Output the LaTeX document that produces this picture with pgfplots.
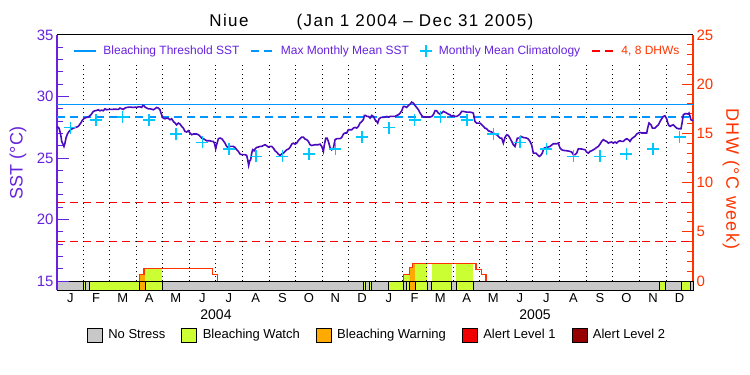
\documentclass[border=0pt]{standalone}
\usepackage{fontspec}
\setmainfont{Liberation Sans}
\newfontfamily\titlefam[LetterSpace=8]{Liberation Sans}
\usepackage{pgfplots}
\pgfplotsset{compat=1.18}
\definecolor{sstline}{RGB}{75,10,190}
\definecolor{purp}{RGB}{102,34,221}
\definecolor{thr}{RGB}{0,150,255}
\definecolor{clim}{RGB}{0,200,255}
\definecolor{dhwred}{RGB}{255,0,0}
\definecolor{oranger}{RGB}{255,51,0}
\definecolor{nostress}{RGB}{200,200,200}
\definecolor{watch}{RGB}{204,255,51}
\definecolor{warning}{RGB}{255,170,0}
\definecolor{alertone}{RGB}{240,0,0}
\definecolor{alerttwo}{RGB}{150,0,0}
\pgfplotsset{
 lineleg/.style={legend image code/.code={\draw[mark repeat=2,mark phase=2,##1] plot coordinates {(0bp,0bp)(11bp,0bp)(22bp,0bp)};}},
 boxleg/.style={legend image code/.code={\draw[##1] (0bp,-7bp) rectangle (15bp,7bp);}},
}
\newcommand\tickfont{\fontsize{15bp}{15bp}\selectfont}
\newcommand\seg[3]{\addplot[fill=#3,draw=black,line width=0.8bp,forget plot] coordinates {(#1,-0.9125)(#1,0)(#2,0)(#2,-0.9125)} --cycle;}
\begin{document}
\begin{tikzpicture}
\useasboundingbox (0,0) rectangle (750bp,375bp);
\node[anchor=base,font=\titlefam\fontsize{17bp}{17bp}\selectfont] at (229bp,348bp) {Niue};
\node[anchor=base,font=\titlefam\fontsize{17bp}{17bp}\selectfont] at (415bp,348bp) {(Jan 1 2004 – Dec 31 2005)};
% ---------- DHW axis (right) ----------
\begin{axis}[at={(57bp,85bp)}, anchor=south west, scale only axis,
 width=636bp, height=255bp, xmin=0, xmax=731, ymin=-0.9125, ymax=25,
 axis x line=none, axis y line*=right,
 y axis line style={draw=oranger, line width=1.3bp},
 ytick={0,5,10,15,20,25}, minor y tick num=4, tick align=inside,
 major tick length=11bp, minor tick length=6bp,
 y tick style={oranger, line width=1bp},
 yticklabel style={text=oranger, font=\tickfont},
 /pgf/number format/assume math mode=true,
 clip=false, boxleg,
 legend columns=5,
 legend style={at={(rel axis cs:0.042,-0.1765)}, anchor=west, draw=none, fill=none,
   font=\fontsize{13bp}{13bp}\selectfont, nodes={inner sep=0pt},
   /tikz/every odd column/.append style={column sep=6bp},
   /tikz/every even column/.append style={column sep=16bp}},
]
% area under DHW coloured by stress level
\addplot[fill=warning, draw=none, forget plot] coordinates {(95,0)(95,0.67)(100,0.67)(100,1.27)(101.1,1.27)(101.1,0)} --cycle;
\addplot[fill=watch, draw=none, forget plot] coordinates {(101.1,0)(101.1,1.27)(121,1.27)(121,0)} --cycle;
\addplot[fill=watch, draw=none, forget plot] coordinates {(398.1,0)(398.1,0.67)(405,0.67)(405,0)} --cycle;
\addplot[fill=warning, draw=none, forget plot] coordinates {(405,0)(405,1.37)(408.8,1.37)(408.8,1.78)(411.5,1.78)(411.5,0)} --cycle;
\addplot[fill=watch, draw=none, forget plot] coordinates {(411.5,0)(411.5,1.78)(425.6,1.78)(425.6,0)} --cycle;
\addplot[fill=watch, draw=none, forget plot] coordinates {(430.7,0)(430.7,1.78)(453.7,1.78)(453.7,0)} --cycle;
\addplot[fill=watch, draw=none, forget plot] coordinates {(458.6,0)(458.6,1.78)(478.5,1.78)(478.5,0)} --cycle;
% DHW curve
\addplot[oranger, line width=1.2bp, forget plot] coordinates {(95,0)(95,0.67)(100,0.67)(100,1.27)(178.5,1.27)(178.5,0.67)(184.7,0.67)(184.7,0)};
\addplot[oranger, line width=1.2bp, forget plot] coordinates {(398.1,0)(398.1,0.67)(405,0.67)(405,1.37)(408.8,1.37)(408.8,1.78)(481.6,1.78)(481.6,1.19)(488.1,1.19)(488.1,0.67)(493.1,0.67)(493.1,0)};
% DHW thresholds
\addplot[dhwred, line width=1.2bp, dash pattern=on 8bp off 5bp, forget plot] coordinates {(0,4)(731,4)};
\addplot[dhwred, line width=1.2bp, dash pattern=on 8bp off 5bp, forget plot] coordinates {(0,8)(731,8)};
% stress bar
\seg{0}{30.2}{nostress}
\seg{30.2}{33.0}{watch}
\seg{33.0}{37.6}{nostress}
\seg{37.6}{95.0}{watch}
\seg{95.0}{101.1}{warning}
\seg{101.1}{121.0}{watch}
\seg{121.0}{352.1}{nostress}
\seg{352.1}{354.8}{watch}
\seg{354.8}{358.6}{nostress}
\seg{358.6}{361.7}{watch}
\seg{361.7}{380.5}{nostress}
\seg{380.5}{397.7}{watch}
\seg{397.7}{401.1}{nostress}
\seg{401.1}{405.0}{watch}
\seg{405.0}{411.5}{warning}
\seg{411.5}{425.6}{watch}
\seg{425.6}{430.7}{nostress}
\seg{430.7}{453.7}{watch}
\seg{453.7}{458.6}{nostress}
\seg{458.6}{478.5}{watch}
\seg{478.5}{692.3}{nostress}
\seg{692.3}{699.6}{watch}
\seg{699.6}{718.0}{nostress}
\seg{718.0}{728.4}{watch}
\seg{728.4}{731}{nostress}
\addlegendimage{draw=black, fill=nostress}
\addlegendentry{No Stress}
\addlegendimage{draw=black, fill=watch}
\addlegendentry{Bleaching Watch}
\addlegendimage{draw=black, fill=warning}
\addlegendentry{Bleaching Warning}
\addlegendimage{draw=black, fill=alertone}
\addlegendentry{Alert Level 1}
\addlegendimage{draw=black, fill=alerttwo}
\addlegendentry{Alert Level 2}
\node[rotate=-90, text=oranger, font=\titlefam\fontsize{18bp}{18bp}\selectfont] at (rel axis cs:1.0597,0.435) {DHW (°C week)};
\end{axis}
% ---------- SST axis (left) ----------
\begin{axis}[at={(57bp,85bp)}, anchor=south west, scale only axis,
 width=636bp, height=255bp, xmin=0, xmax=731, ymin=14.27, ymax=35,
 axis y line*=left, axis x line*=bottom,
 x axis line style={draw=none}, x tick style={draw=none},
 xtick={15.5,45,75.5,106,136.5,167,197.5,228.5,259,289.5,320,350.5,381.5,411,440.5,471,501.5,532,562.5,593.5,624,654.5,685,715.5},
 xticklabels={J,F,M,A,M,J,J,A,S,O,N,D,J,F,M,A,M,J,J,A,S,O,N,D},
 xticklabel style={font=\fontsize{13bp}{13bp}\selectfont, inner sep=0pt, yshift=-3bp},
 y axis line style={draw=purp, line width=1.3bp},
 ytick={15,20,25,30,35}, minor y tick num=4, tick align=inside,
 major tick length=12bp, minor tick length=6bp,
 y tick style={purp, line width=1bp},
 yticklabel style={text=purp, font=\tickfont},
 /pgf/number format/assume math mode=true,
 unbounded coords=jump, clip=false, lineleg,
 legend columns=4,
 legend style={at={(rel axis cs:0.0204,0.937)}, anchor=west, draw=none, fill=none,
   text=purp, font=\fontsize{12bp}{12bp}\selectfont, nodes={inner sep=0pt},
   /tikz/every odd column/.append style={column sep=7bp},
   /tikz/every even column/.append style={column sep=11bp}},
]
% month boundaries
\addplot[black, line width=1bp, dash pattern=on 1bp off 3.3bp, forget plot] coordinates {
(31,15)(31,32.8)(31,nan)(60,15)(60,32.8)(60,nan)(91,15)(91,32.8)(91,nan)(121,15)(121,32.8)(121,nan)
(152,15)(152,32.8)(152,nan)(182,15)(182,32.8)(182,nan)(213,15)(213,32.8)(213,nan)(244,15)(244,32.8)(244,nan)
(274,15)(274,32.8)(274,nan)(305,15)(305,32.8)(305,nan)(335,15)(335,32.8)(335,nan)(366,15)(366,32.8)(366,nan)
(397,15)(397,32.8)(397,nan)(425,15)(425,32.8)(425,nan)(456,15)(456,32.8)(456,nan)(486,15)(486,32.8)(486,nan)
(517,15)(517,32.8)(517,nan)(547,15)(547,32.8)(547,nan)(578,15)(578,32.8)(578,nan)(609,15)(609,32.8)(609,nan)
(639,15)(639,32.8)(639,nan)(670,15)(670,32.8)(670,nan)(700,15)(700,32.8)};
\addplot[thr, line width=1.3bp] coordinates {(0,29.33)(731,29.33)};
\addlegendentry{Bleaching Threshold SST}
\addplot[thr, line width=1.3bp, dash pattern=on 8bp off 5bp] coordinates {(0,28.33)(731,28.33)};
\addlegendentry{Max Monthly Mean SST}
\addplot[clim, only marks, mark=+, mark size=6bp, line width=1.5bp] coordinates {
(15.5,27.48)(45,28.11)(75.5,28.33)(106,28.11)(136.5,26.97)(167,26.27)(197.5,25.73)(228.5,25.14)(259,25.13)(289.5,25.34)(320,25.73)(350.5,26.70)
(381.5,27.48)(411,28.11)(440.5,28.33)(471,28.11)(501.5,26.97)(532,26.27)(562.5,25.73)(593.5,25.14)(624,25.13)(654.5,25.34)(685,25.73)(715.5,26.70)};
\addlegendentry{Monthly Mean Climatology}
\addlegendimage{dhwred, line width=1.2bp, dash pattern=on 8bp off 5bp}
\addlegendentry{\textcolor{oranger}{4, 8 DHWs}}
% SST
\addplot[sstline, line width=1.6bp, forget plot] coordinates {
(0,27.57)(2.3,27.43)(3.4,27.16)(4.6,26.76)(5.4,26.35)(6.9,26.13)(8.0,25.94)(9.2,26.22)(10.3,26.62)(11.9,26.95)
(13.8,27.16)(16.1,27.32)(18.8,27.43)(21.4,27.49)(23.7,27.54)(25.3,27.65)(27.6,27.87)(29.5,28.11)(31.4,28.24)(34.1,28.30)
(36.0,28.33)(37.9,28.46)(39.1,28.52)(41.8,28.79)(43.7,28.84)(45.6,28.87)(47.5,28.92)(49.4,28.84)(51.3,28.89)(53.2,28.84)
(55.2,29.00)(57.1,28.92)(59.0,28.95)(62.8,28.95)(66.7,28.97)(70.5,28.95)(72.4,29.06)(74.3,29.00)(76.2,28.95)(78.2,29.06)
(80.1,29.11)(83.9,29.14)(87.7,29.11)(89.6,29.14)(91.6,29.11)(93.5,29.16)(95.4,29.16)(97.3,29.11)(98.5,29.27)(100.0,29.25)
(101.1,29.14)(103.1,29.06)(105.0,29.00)(106.9,29.00)(108.8,28.97)(110.7,28.92)(112.6,29.00)(114.5,29.11)(116.5,29.06)(118.4,28.92)
(119.5,28.65)(121.1,28.38)(122.2,28.24)(124.1,28.19)(126.0,28.24)(128.0,28.22)(129.9,28.11)(131.8,28.19)(133.7,27.97)(135.6,27.84)
(137.5,27.70)(139.5,27.84)(141.4,27.76)(143.3,27.57)(145.2,27.43)(147.1,27.16)(149.1,27.11)(151.0,27.22)(152.9,27.03)(154.8,26.89)
(156.7,26.95)(160.6,26.95)(162.5,26.89)(164.4,26.76)(166.3,26.62)(168.2,26.57)(170.1,26.49)(172.0,26.40)(175.9,26.40)(177.8,26.35)
(179.7,26.35)(180.9,26.21)(182.4,25.75)(183.5,26.08)(185.5,26.57)(187.4,26.62)(189.3,26.57)(191.2,26.40)(193.1,26.21)(195.0,25.94)
(196.9,25.86)(198.1,25.94)(200.8,25.94)(202.7,25.94)(204.6,25.86)(206.5,25.67)(208.4,25.54)(210.4,25.32)(212.3,25.27)(216.1,25.27)
(218.0,25.21)(219.2,24.86)(220.3,24.40)(221.5,24.78)(222.6,24.86)(223.8,25.40)(224.9,25.67)(226.5,25.59)(227.6,25.73)(229.5,25.86)
(231.4,25.89)(233.3,25.94)(235.3,25.94)(237.2,26.02)(239.1,26.08)(241.0,26.00)(242.9,25.89)(244.8,25.94)(246.8,25.94)(248.7,25.81)
(250.6,25.59)(252.5,25.48)(254.4,25.32)(256.3,25.21)(258.2,25.32)(260.2,25.40)(262.1,25.54)(264.0,25.67)(265.9,25.73)(267.8,25.86)
(269.8,26.13)(271.7,26.21)(273.6,26.13)(275.5,26.21)(277.4,26.43)(279.3,26.57)(281.2,26.70)(283.1,26.70)(285.1,26.54)
(287.0,26.49)(288.9,26.35)(290.8,26.08)(292.8,26.02)(296.6,26.08)(300.4,26.08)(302.3,26.13)(304.3,25.94)(306.2,25.54)(307.3,26.08)
(308.9,26.62)(310.4,26.62)(311.9,26.35)(313.8,25.86)(315.7,25.67)(317.7,25.81)(319.6,26.49)(321.5,26.57)(323.4,26.57)(325.3,26.57)
(327.2,26.67)(329.2,26.95)(331.1,27.03)(333.0,27.03)(334.9,27.30)(336.8,27.30)(338.7,27.30)(340.6,27.43)(342.6,27.49)(344.5,27.43)
(346.4,27.57)(348.3,27.84)(350.2,27.97)(352.1,28.11)(353.3,28.46)(354.8,28.46)(356.0,28.38)(357.9,28.38)(359.8,28.24)(361.7,28.46)
(363.6,28.38)(365.6,28.11)(367.5,27.97)(368.6,27.84)(370.2,28.19)(372.4,28.30)(375.1,28.30)(377.0,28.33)(379.0,28.38)(380.9,28.33)
(382.8,28.38)(384.7,28.38)(388.5,28.38)(390.4,28.46)(392.4,28.52)(394.3,28.65)(396.2,28.84)(398.1,29.19)(400.0,29.19)(401.9,29.11)
(403.9,29.27)(405.8,29.38)(407.7,29.54)(409.6,29.46)(411.5,29.27)(413.4,29.11)(415.4,28.92)(417.3,28.65)(419.2,28.46)(421.1,28.33)
(424.9,28.33)(428.8,28.33)(430.7,28.38)(432.6,28.52)(434.5,28.84)
(436.3,28.84)(438.3,28.65)(440.2,28.57)(442.1,28.65)(444.0,28.79)(445.9,28.73)(447.9,28.65)(449.8,28.57)(451.7,28.52)(453.6,28.38)
(455.5,28.46)(457.4,28.38)(459.3,28.38)(461.3,28.46)(463.2,28.57)(465.1,28.79)(467.0,28.79)(470.8,28.73)(474.7,28.73)(476.6,28.70)
(478.5,28.65)(480.4,27.97)(482.3,27.84)(486.2,27.84)(488.1,27.70)(490.0,27.57)(491.9,27.43)(493.8,27.38)(495.7,27.22)(497.7,27.16)
(499.6,27.11)(501.5,27.03)(503.4,26.95)(505.3,26.89)(507.2,26.76)(509.2,26.62)(511.1,26.62)(513.0,26.21)(514.9,26.67)(516.8,26.89)
(518.7,26.84)(520.6,26.62)(522.6,26.35)(524.5,26.08)(526.4,25.94)(527.5,26.21)(529.1,26.62)(531.4,26.62)(532.9,26.76)(536.0,26.67)
(539.8,26.62)(541.7,26.54)(543.6,26.35)(545.5,26.08)(546.7,25.67)(547.5,25.40)(550.5,25.40)(552.1,25.27)(554.4,25.13)(555.9,25.21)
(557.8,25.40)(559.0,25.67)(560.1,25.81)(562.8,25.86)(566.6,25.94)(570.4,26.16)(574.3,26.16)
(576.2,26.21)(578.1,25.81)(580.0,25.67)(582.0,25.62)(585.8,25.59)(589.6,25.54)(591.6,25.48)(593.5,25.27)(595.4,25.27)(597.3,25.40)
(599.2,25.75)(603.0,25.73)(606.9,25.67)(608.8,25.48)(610.7,25.40)(612.6,25.54)(614.5,25.59)(616.5,25.67)(618.4,25.75)(620.3,25.86)
(622.2,25.94)(624.1,26.13)(626.0,26.35)(628.0,26.49)(629.9,26.40)(631.8,26.35)(633.7,26.21)(635.6,26.27)(637.5,26.30)(639.4,26.21)
(641.4,26.30)(643.3,26.21)(645.2,26.35)(647.1,26.40)(649.0,26.35)(650.9,26.35)(652.9,26.49)(654.8,26.57)(656.7,26.49)(658.6,26.35)
(660.5,26.57)(662.4,26.67)(664.3,26.76)(666.3,26.95)(668.2,27.03)(670.1,27.08)(672.0,27.03)(675.8,27.03)(677.8,27.03)(678.9,27.43)
(680.4,27.84)(682.7,27.70)(684.3,27.43)(685.4,27.43)(687.3,27.43)(689.2,27.57)(691.2,27.70)(693.1,27.97)(695.0,28.19)(696.9,28.38)
(698.8,28.43)(700.7,28.19)(702.7,27.70)(704.6,27.57)(706.5,27.65)(708.4,27.70)(710.3,27.57)(712.2,27.43)(714.2,27.38)(717.2,27.38)
(718.7,27.97)(719.9,28.52)(721.8,28.60)(723.7,28.60)(725.6,28.57)(726.4,28.65)(727.6,28.38)(728.7,28.11)(730.2,28.05)(731,28.11)};
\draw[black, line width=1bp] (rel axis cs:0,1) -- (rel axis cs:1,1);
\node[font=\fontsize{14bp}{14bp}\selectfont] at (rel axis cs:0.25,-0.096) {2004};
\node[font=\fontsize{14bp}{14bp}\selectfont] at (rel axis cs:0.7516,-0.096) {2005};
\node[rotate=90, text=purp, font=\fontsize{18bp}{18bp}\selectfont] at (rel axis cs:-0.0613,0.498) {SST (°C)};
\end{axis}
\end{tikzpicture}
\end{document}
